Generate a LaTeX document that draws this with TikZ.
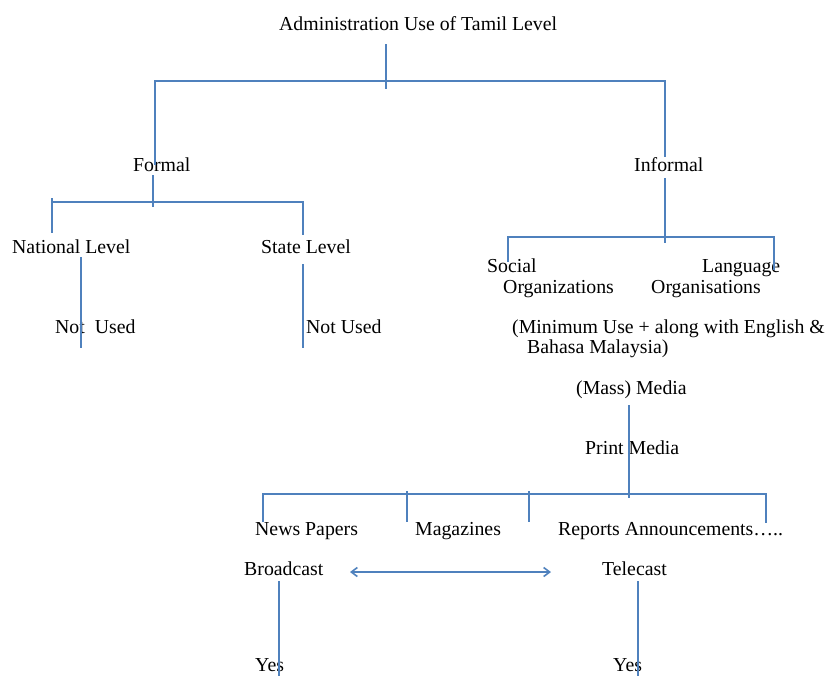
\documentclass[tikz,border=0pt]{standalone}
\usepackage{fontspec}
\setmainfont{Liberation Serif}
\usetikzlibrary{arrows.meta}
\definecolor{linkblue}{RGB}{79,129,189}
\begin{document}
\begin{tikzpicture}[x=1pt,y=-1pt,
  lbl/.style={anchor=base west, inner sep=0pt, font=\fontsize{19.8}{21}\selectfont},
  link/.style={draw=linkblue, line width=1.6pt},
  twoway/.style={link, {Straight Barb[length=6pt,width=9pt]}-{Straight Barb[length=6pt,width=9pt]}}]
\useasboundingbox (0,0) rectangle (827,675);

% ---- labels ----
\node[lbl] (adm)   at (279,30)  {Administration Use of Tamil Level};
\node[lbl] (formal) at (133,171) {Formal};
\node[lbl] (informal) at (634,171) {Informal};
\node[lbl] (natl)  at (12,253)  {National Level};
\node[lbl] (state) at (261,253) {State Level};
\node[lbl] (nu1)   at (55,333)  {Not\hspace{5pt} Used};
\node[lbl] (nu2)   at (306,333) {Not Used};
\node[lbl] (social) at (487,272) {Social};
\node[lbl] (socorg) at (503,293) {Organizations};
\node[lbl] (lang)  at (702,272) {Language};
\node[lbl] (langorg) at (651,293) {Organisations};
\node[lbl] (minuse) at (512,333) {(Minimum Use + along with English \&};
\node[lbl] (bahasa) at (527,353) {Bahasa Malaysia)};
\node[lbl] (mass)  at (576,394) {(Mass) Media};
\node[lbl] (print) at (585,454) {Print Media};
\node[lbl] (news)  at (255,535) {News Papers};
\node[lbl] (mags)  at (415,535) {Magazines};
\node[lbl] (reports) at (558,535) {Reports Announcements…..};
\node[lbl] (broad) at (244,575) {Broadcast};
\node[lbl] (tele)  at (602,575) {Telecast};
\node[lbl] (yes1)  at (255,671) {Yes};
\node[lbl] (yes2)  at (613,671) {Yes};

% ---- junction points ----
\coordinate (rootA) at (386,44);
\coordinate (rootB) at (386,89);
\coordinate (barL)  at (155,81);
\coordinate (barR)  at (665,81);
\coordinate (formalIn) at (155,165);
\coordinate (informalIn) at (665,157);
\coordinate (formalOut) at (153,175);
\coordinate (formalJ) at (153,207);
\coordinate (fbarL) at (52,202);
\coordinate (fbarR) at (303,202);
\coordinate (natlTop) at (52,198);
\coordinate (natlIn) at (52,233);
\coordinate (stateIn) at (303,235);
\coordinate (natlOut) at (81,257);
\coordinate (natlEnd) at (81,348);
\coordinate (stateOut) at (303,264);
\coordinate (stateEnd) at (303,348);
\coordinate (informalOut) at (665,178);
\coordinate (informalJ) at (665,243);
\coordinate (ibarL) at (508,237);
\coordinate (ibarR) at (774,237);
\coordinate (socialIn) at (508,262);
\coordinate (langIn) at (774,270);
\coordinate (massOut) at (629,405);
\coordinate (printJ) at (629,498);
\coordinate (pbarL) at (263,494);
\coordinate (pbarR) at (766,494);
\coordinate (newsIn) at (263,522);
\coordinate (magsTop) at (407,491);
\coordinate (magsIn) at (407,522);
\coordinate (sepTop) at (529,491);
\coordinate (sepIn) at (529,522);
\coordinate (reportsIn) at (766,523);
\coordinate (arrL) at (350,572);
\coordinate (arrR) at (551,572);
\coordinate (broadOut) at (279,581);
\coordinate (broadEnd) at (279,676);
\coordinate (teleOut) at (638,581);
\coordinate (teleEnd) at (638,676);

% ---- connectors ----
\draw[link] (rootA) -- (rootB);
\draw[link] (formalIn) -- (barL) -- (barR) -- (informalIn);
\draw[link] (formalOut) -- (formalJ);
\draw[link] (natlTop) -- (natlIn);
\draw[link] (fbarL) -- (fbarR) -- (stateIn);
\draw[link] (natlOut) -- (natlEnd);
\draw[link] (stateOut) -- (stateEnd);
\draw[link] (informalOut) -- (informalJ);
\draw[link] (socialIn) -- (ibarL) -- (ibarR) -- (langIn);
\draw[link] (massOut) -- (printJ);
\draw[link] (newsIn) -- (pbarL) -- (pbarR) -- (reportsIn);
\draw[link] (magsTop) -- (magsIn);
\draw[link] (sepTop) -- (sepIn);
\draw[twoway] (arrL) -- (arrR);
\draw[link] (broadOut) -- (broadEnd);
\draw[link] (teleOut) -- (teleEnd);
\end{tikzpicture}
\end{document}
